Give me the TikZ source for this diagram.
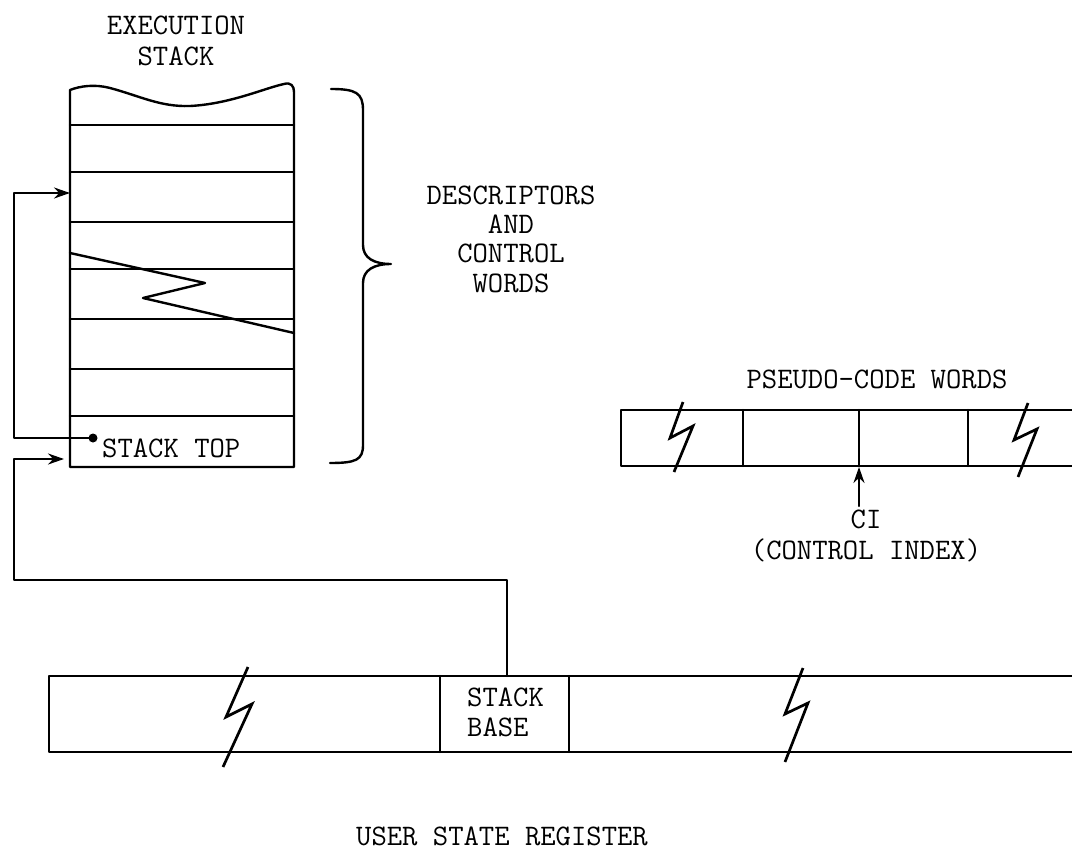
\documentclass[tikz,border=0pt]{standalone}
\usetikzlibrary{arrows.meta}
\begin{document}
\begin{tikzpicture}[x=1pt,y=-1pt,
  ln/.style={line width=2.4pt, line join=round, line cap=round},
  arr/.style={ln, -{Stealth[length=16pt,width=11pt]}},
  txt/.style={font=\fontsize{29.8pt}{30pt}\selectfont\ttfamily, inner sep=0pt, align=center},
  bolt/.style={line width=2.7pt, line join=miter}]
\useasboundingbox (0,0) rectangle (1072,851);
% ---------- execution stack ----------
\node[txt, font=\fontsize{29.8pt}{31pt}\selectfont\ttfamily] (title) at (176,40.5) {EXECUTION\\STACK};
\coordinate (sTL) at (70,90);
\coordinate (sBL) at (70,467);
\coordinate (sBR) at (294,467);
\coordinate (sTR) at (294,92);
\draw[ln] (sTR) -- (sBR) -- (sBL) -- (sTL)
  .. controls (80,86) and (95,84) .. (110,88)
  .. controls (140,96) and (160,107) .. (190,106)
  .. controls (230,104) and (265,88) .. (284,84)
  .. controls (291,82) and (294,86) .. (sTR);
\foreach \yy in {125,172,222,269,319,369,416}
  \draw[ln] (70,\yy) -- (294,\yy);
\draw[ln] (70,253) -- (205,283) -- (143,298) -- (294,333);
% brace
\draw[ln] (331,89) .. controls (356,89) and (363,93) .. (363,110) -- (363,245)
  .. controls (363,258) and (374,264) .. (391,264)
  .. controls (374,264) and (363,270) .. (363,283) -- (363,445)
  .. controls (363,460) and (356,463) .. (330,463);
\node[txt, font=\fontsize{29.8pt}{29.4pt}\selectfont\ttfamily] (desc) at (511,239) {DESCRIPTORS\\AND\\CONTROL\\WORDS};
% stack top
\node[txt, anchor=west] (stop) at (102,448) {STACK TOP};
\coordinate (dot) at (93,438);
\fill (dot) circle (4.5pt);
\coordinate (c1) at (14,438);
\coordinate (c2) at (14,193);
\coordinate (e1) at (70,193);
\draw[arr] (dot) -- (c1) -- (c2) -- (e1);
% ---------- user state register ----------
\coordinate (rTL) at (49,676);
\coordinate (rBL) at (49,752);
\draw[ln] (1072,676) -- (rTL) -- (rBL) -- (1072,752);
\draw[ln] (440,676) -- (440,752);
\draw[ln] (569,676) -- (569,752);
\node[txt, align=left, anchor=west] (sbase) at (467,712.5) {STACK\\BASE};
\draw[bolt] (248,667) -- (226,717) -- (252,704) -- (223,767);
\draw[bolt] (803,668) -- (785,714) -- (808,703) -- (785,762);
\node[txt] (usr) at (502,836) {USER STATE REGISTER};
\coordinate (sbtop) at (507,676);
\coordinate (d1) at (507,580);
\coordinate (d2) at (14,580);
\coordinate (d3) at (14,459);
\coordinate (e2) at (64,459);
\draw[arr] (sbtop) -- (d1) -- (d2) -- (d3) -- (e2);
% ---------- pseudo-code words ----------
\node[txt] (pcw) at (877,379) {PSEUDO-CODE WORDS};
\draw[ln] (1072,410) -- (621,410) -- (621,466) -- (1072,466);
\foreach \xx in {743,859,968}
  \draw[ln] (\xx,410) -- (\xx,466);
\draw[bolt] (683,402) -- (670,438) -- (693,426) -- (674,472);
\draw[bolt] (1028,403) -- (1014,440) -- (1037,429) -- (1018,477);
\coordinate (citip) at (859,467);
\coordinate (citail) at (859,506);
\draw[arr] (citail) -- (citip);
\node[txt, font=\fontsize{29.8pt}{31pt}\selectfont\ttfamily] (ci) at (866,536) {CI\\(CONTROL INDEX)};
\end{tikzpicture}
\end{document}
